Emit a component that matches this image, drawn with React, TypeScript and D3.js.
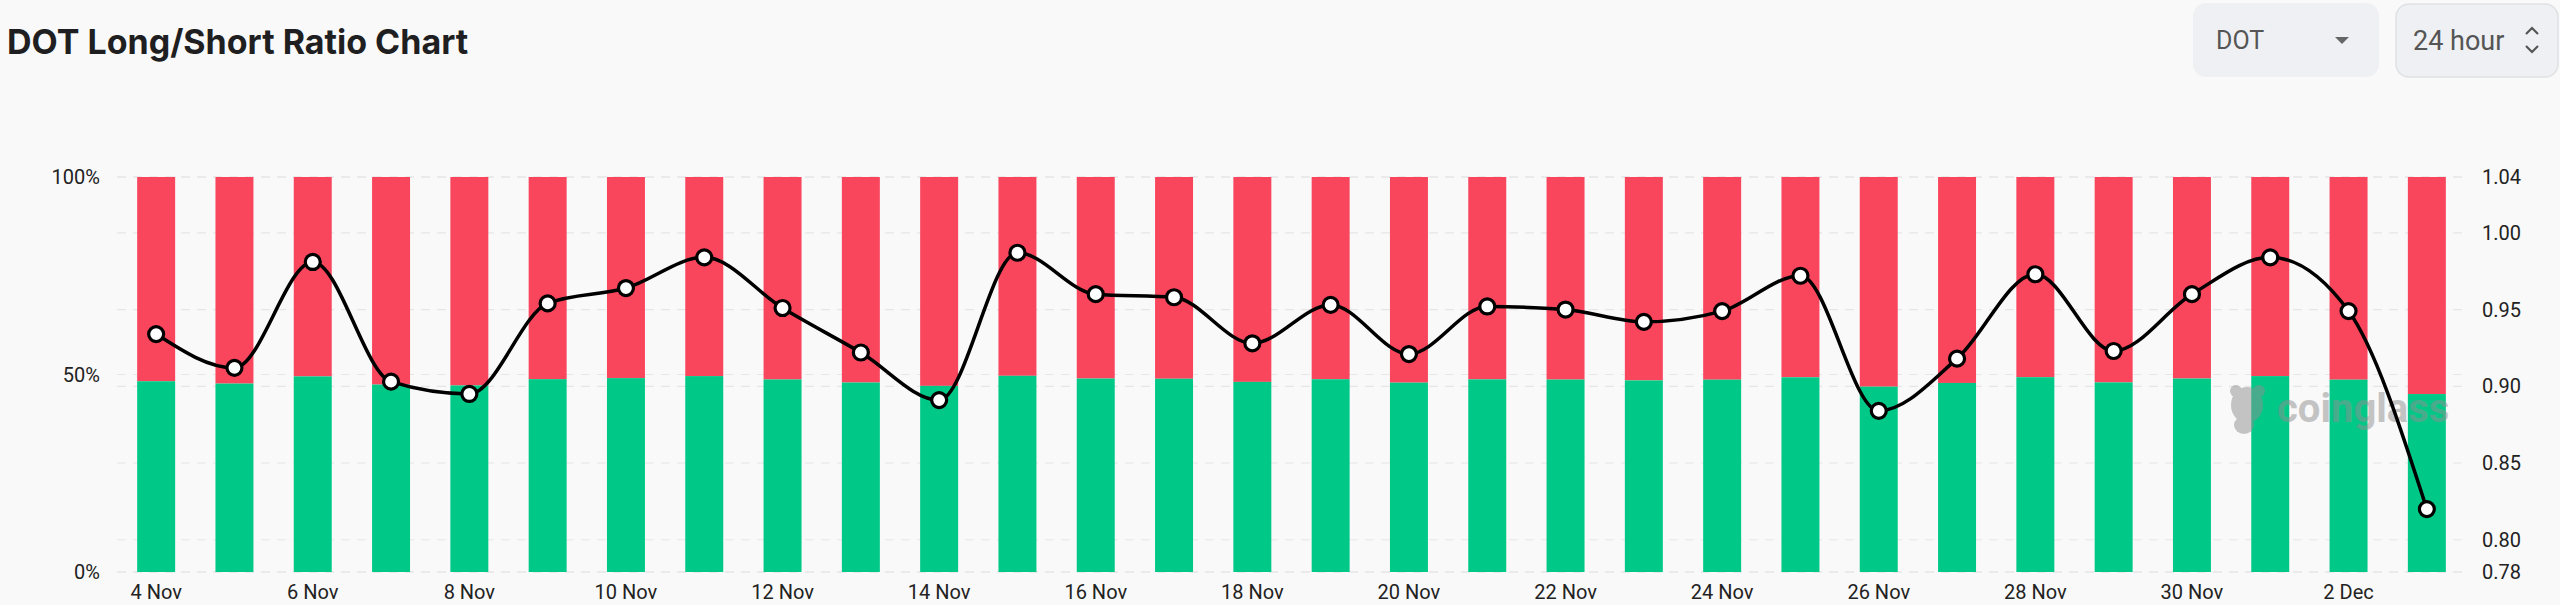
import * as d3 from "d3";

const dates = [
  "4 Nov", "5 Nov", "6 Nov", "7 Nov", "8 Nov", "9 Nov", "10 Nov", "11 Nov",
  "12 Nov", "13 Nov", "14 Nov", "15 Nov", "16 Nov", "17 Nov", "18 Nov", "19 Nov",
  "20 Nov", "21 Nov", "22 Nov", "23 Nov", "24 Nov", "25 Nov", "26 Nov", "27 Nov",
  "28 Nov", "29 Nov", "30 Nov", "1 Dec", "2 Dec", "3 Dec",
];

// long account share, %
const longPct = [
  48.29, 47.7, 49.52, 47.45, 47.23, 48.82, 49.08, 49.6, 48.74, 47.97,
  47.12, 49.67, 48.98, 48.93, 48.13, 48.8, 47.94, 48.77, 48.72, 48.51,
  48.69, 49.29, 46.92, 47.86, 49.32, 48.0, 48.98, 49.6, 48.69, 45.05,
];

// long/short ratio
const ratio = [
  0.934, 0.912, 0.981, 0.903, 0.895, 0.954, 0.964, 0.984, 0.951, 0.922,
  0.891, 0.987, 0.96, 0.958, 0.928, 0.953, 0.921, 0.952, 0.95, 0.942,
  0.949, 0.972, 0.884, 0.918, 0.973, 0.923, 0.96, 0.984, 0.949, 0.82,
];

const leftTicks = [0, 50, 100];
const rightTicks = [0.8, 0.85, 0.9, 0.95, 1.0];

const W = 2560;
const H = 605;
const RED = "#f9465d";
const GREEN = "#00c987";
const FONT = "Roboto, 'Noto Sans', sans-serif";

export default function App() {
  const top = 177;
  const bottom = 572;

  const x = d3.scaleBand<string>()
    .domain(dates)
    .range([117, 2466])
    .paddingInner(0.515)
    .paddingOuter(0.2575);

  const yL = d3.scaleLinear().domain([0, 100]).range([bottom, top]);

  const rMin = (d3.min(ratio) ?? 0) * 0.95;
  const rMax = (d3.max(ratio) ?? 1) * 1.05;
  const yR = d3.scaleLinear().domain([rMin, rMax]).range([bottom, top]);
  const rTicks = [rMin, ...rightTicks, rMax];

  const cx = (d: string) => (x(d) ?? 0) + x.bandwidth() / 2;

  const line = d3.line<number>()
    .x((_, i) => cx(dates[i]))
    .y((d) => yR(d))
    .curve(d3.curveMonotoneX);

  const gridL = leftTicks.map((t) => yL(t));
  const gridR = rTicks.map((t) => yR(t));

  return (
    <div style={{ position: "fixed", left: 0, top: 0, width: W, height: H, background: "#f9f9f9" }}>
      <svg width={W} height={H} style={{ display: "block", fontFamily: FONT }}>
        <rect width={W} height={H} fill="#f9f9f9" />

        <text x={7} y={54} fontSize={34} fontWeight={700} fill="#1f1f22" fontFamily="Inter, Roboto, sans-serif">
          DOT Long/Short Ratio Chart
        </text>

        {/* selectors */}
        <rect x={2193} y={3} width={186} height={74} rx={13} fill="#eef0f3" />
        <text x={2216} y={49} fontSize={25} fill="#555">DOT</text>
        <path d="M2335,37 L2349,37 L2342,44 Z" fill="#666" />
        <rect x={2396} y={4} width={162} height={73} rx={13} fill="#eef0f3" stroke="#dfe1e5" strokeWidth={1.5} />
        <text x={2413} y={50} fontSize={27} fill="#555">24 hour</text>
        <path d="M2526,34 L2532,28 L2538,34 M2526,46 L2532,52 L2538,46" fill="none" stroke="#555" strokeWidth={2.2} />

        {/* grid */}
        {[...gridL, ...gridR].map((gy, i) => (
          <line key={i} x1={117} x2={2467} y1={gy} y2={gy} stroke="#e6e6e6" strokeWidth={1.2} strokeDasharray="9 7" />
        ))}

        {/* bars */}
        {dates.map((d, i) => (
          <g key={d}>
            <rect x={x(d)} y={top} width={x.bandwidth()} height={yL(longPct[i]) - top} fill={RED} />
            <rect x={x(d)} y={yL(longPct[i])} width={x.bandwidth()} height={bottom - yL(longPct[i])} fill={GREEN} />
          </g>
        ))}

        {/* watermark */}
        <g opacity={0.5} fill="#8f8f8f">
          <ellipse cx={2247} cy={405} rx={16} ry={18} />
          <ellipse cx={2244} cy={425} rx={10} ry={9} />
          <circle cx={2236} cy={391} r={6} />
          <circle cx={2259} cy={391} r={6} />
          <text x={2277} y={422} fontSize={40} fontWeight={700} fontFamily={FONT}>coinglass</text>
        </g>

        {/* ratio line */}
        <path d={line(ratio) ?? ""} fill="none" stroke="#000" strokeWidth={3.5} />
        {ratio.map((r, i) => (
          <circle key={i} cx={cx(dates[i])} cy={yR(r)} r={7.5} fill="#fff" stroke="#000" strokeWidth={3.2} />
        ))}

        {/* left axis */}
        {leftTicks.map((t) => (
          <text key={t} x={100} y={yL(t) + 7} fontSize={20} textAnchor="end" fill="#222">
            {t}%
          </text>
        ))}

        {/* right axis */}
        {rTicks.map((t, i) => (
          <text key={i} x={2482} y={yR(t) + 7} fontSize={20} fill="#222">
            {t.toFixed(2)}
          </text>
        ))}

        {/* x axis */}
        {dates.map((d, i) =>
          i % 2 === 0 ? (
            <text key={d} x={cx(d)} y={599} fontSize={20} textAnchor="middle" fill="#222">
              {d}
            </text>
          ) : null
        )}
      </svg>
    </div>
  );
}
